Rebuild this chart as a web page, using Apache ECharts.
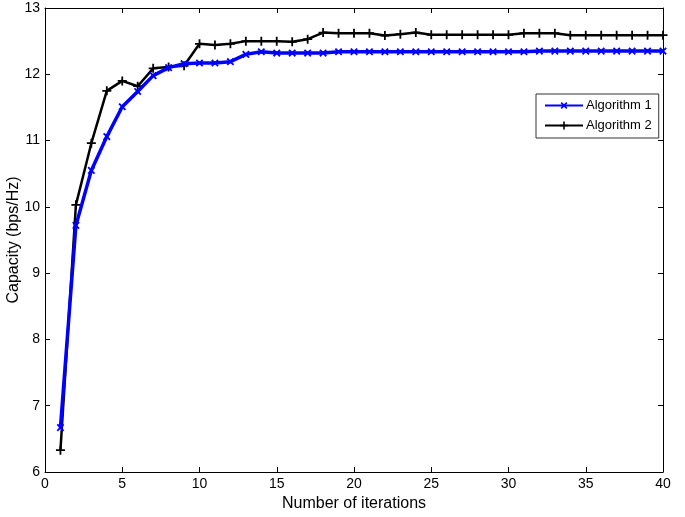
<!DOCTYPE html>
<html>
<head>
<meta charset="utf-8">
<script src="https://cdn.jsdelivr.net/npm/echarts@6/dist/echarts.min.js"></script>
<style>
  html, body { margin: 0; padding: 0; background: #fff; }
  #chart { width: 685px; height: 517px; }
</style>
</head>
<body>
<div id="chart"></div>
<script>
// data
var iterations = [1, 2, 3, 4, 5, 6, 7, 8, 9, 10, 11, 12, 13, 14, 15, 16, 17, 18, 19, 20,
  21, 22, 23, 24, 25, 26, 27, 28, 29, 30, 31, 32, 33, 34, 35, 36, 37, 38, 39, 40];
var alg1 = [6.67, 9.72, 10.55, 11.06, 11.51, 11.74, 11.98, 12.10, 12.16, 12.17,
  12.17, 12.19, 12.30, 12.34, 12.32, 12.32, 12.32, 12.32, 12.34, 12.34,
  12.34, 12.34, 12.34, 12.34, 12.34, 12.34, 12.34, 12.34, 12.34, 12.34,
  12.34, 12.35, 12.35, 12.35, 12.35, 12.35, 12.35, 12.35, 12.35, 12.35];
var alg2 = [6.33, 10.03, 10.96, 11.75, 11.90, 11.82, 12.09, 12.11, 12.13, 12.46,
  12.44, 12.46, 12.50, 12.50, 12.50, 12.49, 12.53, 12.63, 12.62, 12.62,
  12.62, 12.585, 12.605, 12.63, 12.595, 12.595, 12.595, 12.595, 12.595, 12.595,
  12.62, 12.62, 12.62, 12.59, 12.59, 12.59, 12.59, 12.59, 12.59, 12.59];
var seriesNames = ['Algorithm 1', 'Algorithm 2'];
var xTicks = [0, 40, 5];   // min, max, step
var yTicks = [6, 13, 1];

function pairs(ys) {
  return iterations.map(function (x, i) { return [x, ys[i]]; });
}

// plus sign as filled path, rotated 45deg it becomes the x marker
var plusPath = 'path://M4,0H6V4H10V6H6V10H4V6H0V4H4Z';
var font = 'Liberation Sans, Arial, sans-serif';

var myChart = echarts.init(document.getElementById('chart'), null, { renderer: 'canvas' });

// shared axis look, matlab style box with inward ticks
var axisLine = { show: true, onZero: false, lineStyle: { color: '#000', width: 1 } };
var axisTick = { show: true, inside: true, length: 5, lineStyle: { color: '#000' } };

var option = {
  animation: false,
  backgroundColor: '#fff',
  textStyle: { fontFamily: font },
  grid: { left: 45, right: 22, top: 8, bottom: 45, outerBoundsMode: 'none', containLabel: false },
  legend: {
    data: seriesNames,
    orient: 'vertical',
    left: 536,
    top: 94,
    padding: [5, 7, 6, 8],
    itemGap: 7,
    itemWidth: 38,
    itemHeight: 10,
    borderColor: '#333',
    borderWidth: 1,
    backgroundColor: '#fff',
    textStyle: { color: '#000', fontSize: 13, fontFamily: font, padding: [0, 0, 0, -2] }
  },
  xAxis: [
    {
      type: 'value',
      min: xTicks[0], max: xTicks[1], interval: xTicks[2],
      name: 'Number of iterations',
      nameLocation: 'middle',
      nameGap: 22,
      nameTextStyle: { color: '#000', fontSize: 16, fontFamily: font },
      axisLine: axisLine,
      axisTick: axisTick,
      axisLabel: { color: '#000', fontSize: 14, margin: 5, fontFamily: font },
      splitLine: { show: false }
    },
    {
      type: 'value', position: 'top',
      min: xTicks[0], max: xTicks[1], interval: xTicks[2],
      axisLine: axisLine, axisTick: axisTick,
      axisLabel: { show: false }, splitLine: { show: false }
    }
  ],
  yAxis: [
    {
      type: 'value',
      min: yTicks[0], max: yTicks[1], interval: yTicks[2],
      name: 'Capacity (bps/Hz)',
      nameLocation: 'middle',
      nameGap: 23,
      nameMoveOverlap: false,
      nameTextStyle: { color: '#000', fontSize: 16, fontFamily: font },
      axisLine: axisLine,
      axisTick: axisTick,
      axisLabel: { color: '#000', fontSize: 14, margin: 5, fontFamily: font },
      splitLine: { show: false }
    },
    {
      type: 'value', position: 'right',
      min: yTicks[0], max: yTicks[1], interval: yTicks[2],
      axisLine: axisLine, axisTick: axisTick,
      axisLabel: { show: false }, splitLine: { show: false }
    }
  ],
  series: [
    {
      name: seriesNames[0],
      type: 'line',
      data: pairs(alg1),
      symbol: plusPath,
      symbolRotate: 45,
      symbolSize: 9,
      showAllSymbol: true,
      lineStyle: { color: '#0000ff', width: 3.5 },
      itemStyle: { color: '#0000ff' },
      z: 3
    },
    {
      name: seriesNames[1],
      type: 'line',
      data: pairs(alg2),
      symbol: plusPath,
      symbolSize: 9,
      showAllSymbol: true,
      lineStyle: { color: '#000', width: 2.5 },
      itemStyle: { color: '#000' },
      z: 2
    }
  ]
};
myChart.setOption(option);
</script>
</body>
</html>
